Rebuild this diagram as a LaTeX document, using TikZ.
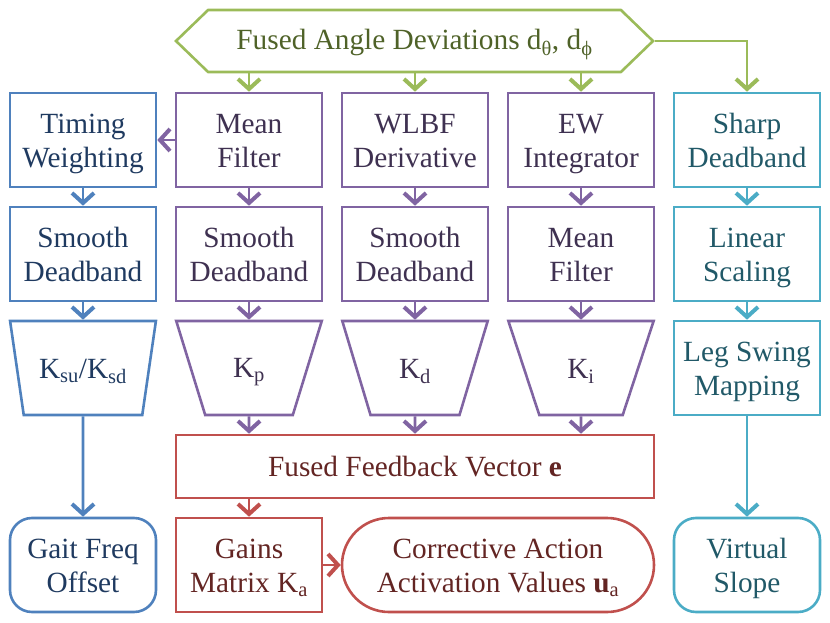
\documentclass[tikz,border=0pt]{standalone}
\usepackage{fontspec}
\setmainfont{Liberation Serif}
\usetikzlibrary{arrows.meta,shapes.geometric,shapes.symbols}
\definecolor{gL}{HTML}{9BBB59}\definecolor{gT}{HTML}{4F6228}
\definecolor{bL}{HTML}{4F81BD}\definecolor{bT}{HTML}{1F3A60}
\definecolor{pL}{HTML}{8064A2}\definecolor{pT}{HTML}{3F3151}
\definecolor{rL}{HTML}{C0504D}\definecolor{rT}{HTML}{632523}
\definecolor{tL}{HTML}{4BACC6}\definecolor{tT}{HTML}{215968}
\newcommand\TT[1]{\begin{tabular}{@{}c@{}}#1\end{tabular}}
\newcommand\sbs[1]{\textsubscript{#1}}
\tikzset{
  base/.style={line width=2.6pt, align=center, inner sep=0pt,
    font={\fontsize{29.3}{34}\selectfont
      \setbox\strutbox\hbox{\vrule height 27.3pt depth 6.7pt width 0pt}}},
  box/.style={base, rectangle, minimum width=146pt, minimum height=94pt},
  trap/.style={base, trapezium, shape border rotate=180, trapezium angle=73.4,
    trapezium stretches=true, minimum width=146pt, minimum height=94pt},
  gr/.style={draw=gL, text=gT}, bl/.style={draw=bL, text=bT},
  pu/.style={draw=pL, text=pT}, re/.style={draw=rL, text=rT},
  te/.style={draw=tL, text=tT},
  arr/.style={line width=2.6pt, arrows={-Straight Barb[length=10pt,width=22pt,line width=4pt]}},
}
\begin{document}
\begin{tikzpicture}[x=1pt,y=-1pt]
\useasboundingbox (0,0) rectangle (830,623);
% top
\node[base, gr, signal, signal to=east and west, signal pointer angle=88,
  minimum width=477pt, minimum height=62pt] (hex) at (414.5,41)
  {\TT{Fused Angle Deviations d\sbs{θ}, d\sbs{ϕ}}};
% row 1
\node[box, bl] (t1) at (83,140) {\TT{Timing\\Weighting}};
\node[box, pu] (m1) at (249,140) {\TT{Mean\\Filter}};
\node[box, pu] (w1) at (415,140) {\TT{WLBF\\Derivative}};
\node[box, pu] (e1) at (581,140) {\TT{EW\\Integrator}};
\node[box, te] (s1) at (747,140) {\TT{Sharp\\Deadband}};
% row 2
\node[box, bl] (t2) at (83,254) {\TT{Smooth\\Deadband}};
\node[box, pu] (m2) at (249,254) {\TT{Smooth\\Deadband}};
\node[box, pu] (w2) at (415,254) {\TT{Smooth\\Deadband}};
\node[box, pu] (e2) at (581,254) {\TT{Mean\\Filter}};
\node[box, te] (s2) at (747,254) {\TT{Linear\\Scaling}};
% row 3
\node[trap, bl] (t3) at (83,368) {\TT{K\sbs{su}/K\sbs{sd}}};
\node[trap, pu] (m3) at (249,368) {\TT{K\sbs{p}}};
\node[trap, pu] (w3) at (415,368) {\TT{K\sbs{d}}};
\node[trap, pu] (e3) at (581,368) {\TT{K\sbs{i}}};
\node[box, te] (s3) at (747,368) {\TT{Leg Swing\\Mapping}};
% feedback
\node[base, re, rectangle, minimum width=478pt, minimum height=63pt] (fb) at (415,466.5)
  {\TT{Fused Feedback Vector \textbf{e}}};
% bottom
\node[box, bl, rounded corners=22pt] (gait) at (83,565) {\TT{Gait Freq\\Offset}};
\node[box, re] (gain) at (249,565) {\TT{Gains\\Matrix K\sbs{a}}};
\node[base, re, rectangle, rounded corners=47pt, minimum width=312pt, minimum height=94pt]
  (ca) at (498,565) {\TT{Corrective Action\\Activation Values \textbf{u}\sbs{a}}};
\node[box, te, rounded corners=22pt] (vs) at (747,565) {\TT{Virtual\\Slope}};
% connectors
\draw[arr, gL] (hex.south -| m1) -- (m1);
\draw[arr, gL] (hex.south -| w1) -- (w1);
\draw[arr, gL] (hex.south -| e1) -- (e1);
\draw[arr, gL] (hex.east) -| (s1);
\draw[arr, pL] (m1) -- (t1);
\draw[arr, bL] (t1) -- (t2);
\draw[arr, bL] (t2) -- (t3);
\draw[arr, bL] (t3) -- (gait);
\draw[arr, pL] (m1) -- (m2);
\draw[arr, pL] (m2) -- (m3);
\draw[arr, pL] (m3.south) -- (fb.north -| m3);
\draw[arr, pL] (w1) -- (w2);
\draw[arr, pL] (w2) -- (w3);
\draw[arr, pL] (w3.south) -- (fb.north -| w3);
\draw[arr, pL] (e1) -- (e2);
\draw[arr, pL] (e2) -- (e3);
\draw[arr, pL] (e3.south) -- (fb.north -| e3);
\draw[arr, tL] (s1) -- (s2);
\draw[arr, tL] (s2) -- (s3);
\draw[arr, tL] (s3) -- (vs);
\draw[arr, rL] (fb.south -| gain) -- (gain);
\draw[arr, rL] (gain) -- (ca);
\end{tikzpicture}
\end{document}
